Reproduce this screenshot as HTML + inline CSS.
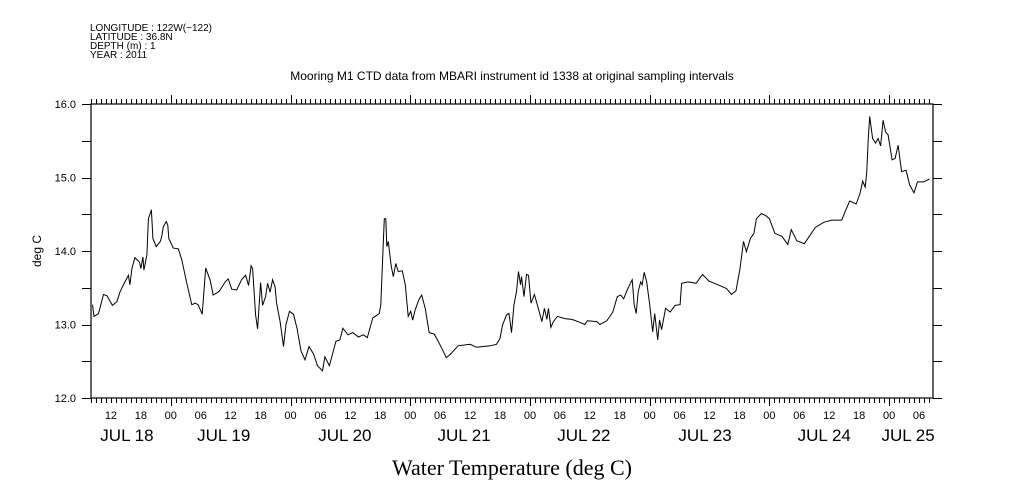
<!DOCTYPE html>
<html><head><meta charset="utf-8"><style>
html,body{margin:0;padding:0;background:#fff;}
svg{display:block;font-family:"Liberation Sans",sans-serif;}
</style></head><body>
<svg id="chart" width="1009" height="504" viewBox="0 0 1009 504">
<g font-size="10" fill="#000">
<text x="90" y="31">LONGITUDE : 122W(−122)</text>
<text x="90" y="40">LATITUDE : 36.8N</text>
<text x="90" y="49">DEPTH (m) : 1</text>
<text x="90" y="58">YEAR : 2011</text>
</g>
<text x="512" y="80" text-anchor="middle" font-size="12">Mooring M1 CTD data from MBARI instrument id 1338 at original sampling intervals</text>
<text x="512" y="475" text-anchor="middle" font-size="22" font-family="Liberation Serif,serif">Water Temperature (deg C)</text>
<text transform="translate(41,251) rotate(-90)" text-anchor="middle" font-size="12">deg C</text>
<g id="axes"></g>
<path id="series" fill="none" stroke="#000" stroke-width="1" stroke-linejoin="miter"/>
</svg>
<script>
const hours=[-15.7,-15.4,-14.5,-13.5,-12.8,-11.7,-10.8,-10.2,-9.2,-8.5,-8.2,-7.8,-7.2,-6.3,-6.0,-5.6,-5.4,-4.8,-4.5,-3.9,-3.6,-2.9,-2.1,-1.8,-1.5,-0.9,-0.6,-0.4,0.5,1.5,2.2,3.2,4.2,4.9,5.5,6.3,7.0,7.9,8.5,9.7,10.9,11.5,12.2,13.2,14.2,15.0,15.6,16.1,16.4,17.0,17.4,18.0,18.4,19.0,19.4,19.9,20.4,20.9,21.2,21.9,22.6,23.1,23.8,24.6,25.3,26.1,26.9,27.7,28.6,29.4,30.4,30.9,31.8,33.1,33.9,34.5,35.5,36.5,37.6,38.6,39.4,40.5,41.4,41.8,42.1,42.5,42.8,43.1,43.3,43.6,43.8,44.2,44.6,45.1,45.6,46.4,47.0,47.6,48.1,48.5,49.0,49.8,50.3,51.0,51.8,52.8,53.6,54.5,55.2,56.0,57.6,60.0,61.3,64.0,65.3,66.0,66.5,67.3,67.8,68.3,68.8,69.3,69.7,70.1,70.3,70.8,71.3,71.7,72.2,72.9,73.6,74.4,74.9,75.4,75.7,76.2,76.7,77.5,79.0,80.4,82.0,83.0,83.5,85.4,86.0,87.4,88.6,89.5,90.2,90.8,91.5,92.5,92.9,93.3,93.7,94.2,94.5,94.9,95.4,96.0,96.6,97.0,97.6,98.0,98.4,99.2,100.1,101.1,102.1,102.4,103.7,105.3,106.6,107.9,109.7,111.4,112.4,113.3,114.1,114.8,115.4,116.2,116.9,117.4,118.4,119.3,120.0,121.1,122.5,123.7,124.4,125.5,127.0,128.0,129.2,130.9,132.5,134.5,135.2,136.1,137.4,138.2,138.7,139.2,139.5,139.8,140.1,140.7,141.3,141.8,142.3,142.8,143.3,143.8,144.6,145.2,145.8,146.5,147.4,148.1,148.5,149.0,149.7,150.9,152.1];
const temps=[13.27,13.11,13.15,13.41,13.39,13.26,13.31,13.44,13.58,13.67,13.54,13.76,13.91,13.85,13.76,13.92,13.74,13.95,14.44,14.56,14.17,14.06,14.13,14.2,14.33,14.40,14.35,14.17,14.04,14.03,13.88,13.56,13.27,13.29,13.27,13.14,13.77,13.6,13.4,13.45,13.58,13.62,13.48,13.47,13.61,13.67,13.53,13.80,13.76,13.13,12.94,13.57,13.26,13.38,13.56,13.44,13.61,13.51,13.29,13.04,12.70,13.0,13.18,13.14,12.95,12.64,12.52,12.70,12.6,12.44,12.37,12.56,12.44,12.77,12.79,12.95,12.86,12.89,12.83,12.86,12.82,13.09,13.13,13.15,13.27,13.95,14.44,14.44,14.06,14.13,14.01,13.79,13.65,13.83,13.72,13.73,13.54,13.11,13.18,13.06,13.20,13.35,13.40,13.22,12.89,12.87,12.77,12.65,12.55,12.59,12.71,12.73,12.69,12.71,12.73,12.81,12.99,13.13,13.15,12.89,13.27,13.45,13.72,13.54,13.65,13.38,13.68,13.67,13.29,13.41,13.24,13.04,13.22,13.07,13.22,12.96,13.04,13.11,13.08,13.07,13.03,13.0,13.05,13.04,13.0,13.05,13.17,13.38,13.40,13.35,13.47,13.61,13.27,13.15,13.45,13.58,13.54,13.71,13.58,13.27,12.90,13.15,12.79,13.06,12.93,13.22,13.17,13.26,13.27,13.56,13.58,13.56,13.68,13.59,13.54,13.49,13.41,13.46,13.76,14.13,13.99,14.17,14.24,14.44,14.51,14.48,14.44,14.24,14.20,14.09,14.29,14.14,14.10,14.20,14.32,14.39,14.42,14.42,14.54,14.68,14.64,14.79,14.95,14.87,15.06,15.51,15.83,15.53,15.47,15.53,15.43,15.78,15.62,15.58,15.24,15.26,15.44,15.08,15.10,14.90,14.85,14.79,14.94,14.94,14.98];
const yTicks=[12,13,14,15,16];
const yTickLabels=["12.0","13.0","14.0","15.0","16.0"];
const hourLabels=["12","18","00","06","12","18","00","06","12","18","00","06","12","18","00","06","12","18","00","06","12","18","00","06","12","18","00","06"];
const dateLabels=["JUL 18","JUL 19","JUL 20","JUL 21","JUL 22","JUL 23","JUL 24","JUL 25"];
const dateHours=[-8.8,10.6,34.9,58.8,82.8,107.1,131,147.8];

const X0=91,X1=933,Y0=104,Y1=398,H0=-16,H1=152.8,T0=12,T1=16;
const xs=h=>X0+(h-H0)/(H1-H0)*(X1-X0);
const ys=t=>Y1-(t-T0)/(T1-T0)*(Y1-Y0);
const NS="http://www.w3.org/2000/svg";
const axes=document.getElementById('axes');
function el(tag,attrs,parent){const e=document.createElementNS(NS,tag);for(const k in attrs)e.setAttribute(k,attrs[k]);(parent||axes).appendChild(e);return e;}

const frame=el('rect',{x:X0,y:Y0,width:X1-X0,height:Y1-Y0,fill:'none',stroke:'#000','stroke-width':1.2});



let tp='';
for(let h=Math.ceil(H0);h<=H1;h++){
  const x=Math.round(xs(h))+0.5;
  const major=((h%24)+24)%24===0;
  tp+=`M${x} ${Y0}V${Y0-(major?9:5)}M${x} ${Y1}V${Y1+(major?8:5)}`;
}
const ticks=el('path',{d:tp,stroke:'#000','stroke-width':1,fill:'none'});


let yp='';
for(let t=T0;t<=T1+0.001;t+=0.5){const y=Math.round(ys(t))+0.5;yp+=`M${X0} ${y}H${X0-9}M${X1} ${y}H${X1+9}`;}
const yt=el('path',{d:yp,stroke:'#000','stroke-width':1,fill:'none'});


yTicks.forEach((t,i)=>{
  const tx=el('text',{x:76,y:ys(t)+4,'text-anchor':'end','font-size':11});
  tx.textContent=yTickLabels[i];
  
  
});
hourLabels.forEach((lb,i)=>{
  const h=-12+6*i;
  const tx=el('text',{x:xs(h),y:419,'text-anchor':'middle','font-size':11});
  tx.textContent=lb;
  
  
});
dateLabels.forEach((lb,i)=>{
  const tx=el('text',{x:xs(dateHours[i]),y:441,'text-anchor':'middle','font-size':17,'font-weight':300});
  tx.textContent=lb;
  
  
});
document.getElementById('series').setAttribute('d',hours.map((h,i)=>(i?'L':'M')+xs(h).toFixed(1)+' '+ys(temps[i]).toFixed(1)).join(''));
</script>
</body></html>
